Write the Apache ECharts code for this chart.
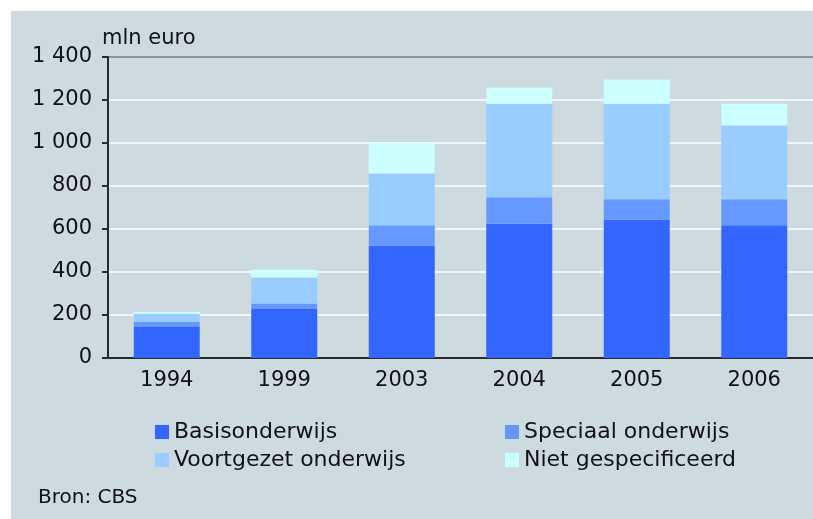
<!DOCTYPE html>
<html>
<head>
<meta charset="utf-8">
<script src="https://cdn.jsdelivr.net/npm/echarts@6/dist/echarts.min.js"></script>
<style>
html,body{margin:0;padding:0;background:#ffffff;}
#chart{width:813px;height:519px;}
</style>
</head>
<body>
<div id="chart"></div>
<script>
const categories = ['1994', '1999', '2003', '2004', '2005', '2006'];
const basisonderwijs = [144, 228, 523, 625, 644, 617];
const speciaalOnderwijs = [23, 25, 94, 123, 94, 121];
const voortgezetOnderwijs = [39, 121, 241, 435, 445, 343];
const nietGespecificeerd = [8, 37, 142, 75, 112, 102];
const yTicks = [0, 200, 400, 600, 800, 1000, 1200, 1400];

const FONT = 'DejaVu Sans';
const chart = echarts.init(document.getElementById('chart'));

function fmt(v) {
  const s = String(v);
  return s.length > 3 ? s.slice(0, s.length - 3) + ' ' + s.slice(-3) : s;
}

const colors = ['#3366ff', '#6699ff', '#99ccff', '#ccffff'];
const names = ['Basisonderwijs', 'Speciaal onderwijs', 'Voortgezet onderwijs', 'Niet gespecificeerd'];
const datas = [basisonderwijs, speciaalOnderwijs, voortgezetOnderwijs, nietGespecificeerd];

const splitColors = yTicks.map((t, i) => i === yTicks.length - 1 ? '#8b9499' : '#f2f6f8');

chart.setOption({
  animation: false,
  textStyle: { fontFamily: FONT },
  graphic: [{
    type: 'rect', z: -10, silent: true,
    shape: { x: 11, y: 11, width: 802, height: 508 },
    style: { fill: '#cddbe0' }
  }],
  title: {
    text: 'Bron: CBS', left: 33, top: 483,
    textStyle: { fontFamily: FONT, fontSize: 20, fontWeight: 'normal', color: '#111' }
  },
  legend: [{
    left: 150, top: 416, orient: 'vertical', itemWidth: 14, itemHeight: 14, itemGap: 6,
    icon: 'rect', data: [names[0], names[2]],
    textStyle: { fontFamily: FONT, fontSize: 22, color: '#111', padding: [0, 0, 0, 0] }
  }, {
    left: 500, top: 416, orient: 'vertical', itemWidth: 14, itemHeight: 14, itemGap: 6,
    icon: 'rect', data: [names[1], names[3]],
    textStyle: { fontFamily: FONT, fontSize: 22, color: '#111', padding: [0, 0, 0, 0] }
  }],
  grid: { left: 108, top: 57, width: 708, bottom: 161, containLabel: false },
  xAxis: {
    type: 'category', data: categories,
    axisLine: { show: true, lineStyle: { color: '#2a2a2a', width: 2 } },
    axisTick: { show: false },
    axisLabel: { fontFamily: FONT, fontSize: 21, color: '#111', margin: 12 }
  },
  yAxis: {
    type: 'value', min: 0, max: 1400, interval: 200,
    name: 'mln euro', nameLocation: 'end', nameGap: 8,
    nameTextStyle: { fontFamily: FONT, fontSize: 21, color: '#111', align: 'left', padding: [0, 0, 0, -6] },
    axisLine: { show: true, lineStyle: { color: '#2a2a2a', width: 2 } },
    axisTick: { show: true, length: 6, lineStyle: { color: '#2a2a2a', width: 2 } },
    axisLabel: { fontFamily: FONT, fontSize: 21, color: '#111', margin: 16, formatter: fmt },
    splitLine: { show: true, lineStyle: { color: splitColors, width: 2 } }
  },
  series: names.map((n, i) => ({
    name: n, type: 'bar', stack: 'total', data: datas[i], barWidth: 66,
    itemStyle: { color: colors[i] }
  }))
});
</script>
</body>
</html>
